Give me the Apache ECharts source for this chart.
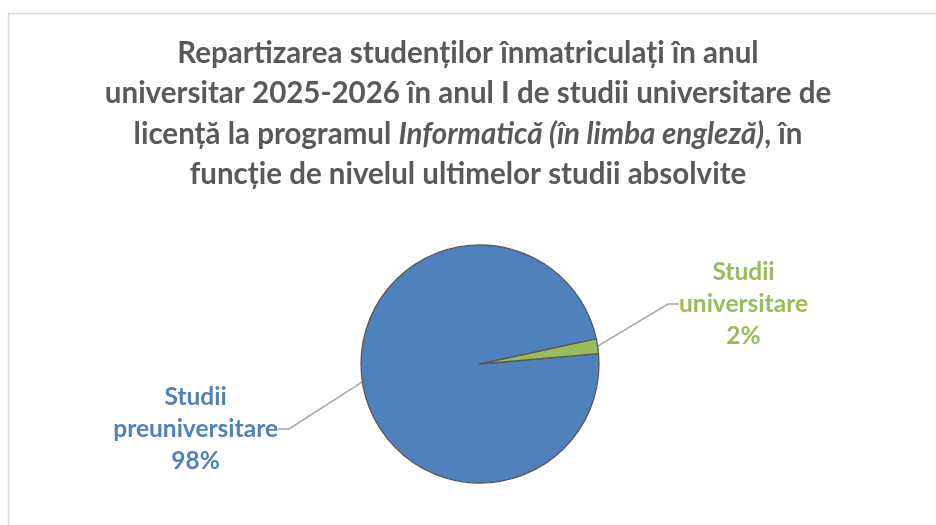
<!DOCTYPE html>
<html>
<head>
<meta charset="utf-8">
<script src="https://cdn.jsdelivr.net/npm/echarts@6/dist/echarts.min.js"></script>
<style>
  html, body { margin: 0; padding: 0; background: #fff; }
  #chart { width: 936px; height: 525px; }
</style>
</head>
<body>
<div id="chart"></div>
<script>
const categories = ['Studii preuniversitare', 'Studii universitare']
const labelLines = [['Studii', 'preuniversitare'], ['Studii', 'universitare']]
const values = [98, 2]
const colors = ['#4F81BD', '#9BBB59']
// where each label block sits (anchor point of the text block)
const labelPos = [
  { x: 286, y: 429, align: 'right' },
  { x: 671, y: 304, align: 'left' }
]

const FONT = 'Lato, "Open Sans", sans-serif'

const chart = echarts.init(document.getElementById('chart'))

const pieData = categories.map((name, i) => ({
  name,
  value: values[i],
  itemStyle: { color: colors[i] },
  label: {
    color: colors[i],
    formatter: (p) => labelLines[i].map(t => '{c|' + t + '}').join('\n') + '\n{c|' + Math.round(p.percent) + '%}',
    rich: {
      c: { color: colors[i], fontSize: 24.5, fontWeight: 'bold', fontFamily: FONT, lineHeight: 32, align: 'center' }
    }
  }
}))

chart.setOption({
  animation: false,
  backgroundColor: '#fff',
  title: {
    left: 'center',
    top: 28,
    text: '{b|Repartizarea studenților înmatriculați în anul}\n' +
          '{b|universitar 2025-2026 în anul I de studii universitare de}\n' +
          '{b|licență la programul }{i|Informatică (în limba engleză)}{b|, în}\n' +
          '{b|funcție de nivelul ultimelor studii absolvite}',
    textStyle: {
      rich: {
        b: { fontSize: 29.5, fontWeight: 'bold', color: '#595959', fontFamily: FONT, lineHeight: 40.5 },
        i: { fontSize: 29.5, fontWeight: 'bold', fontStyle: 'italic', color: '#595959', fontFamily: FONT, lineHeight: 40.5 }
      }
    }
  },
  graphic: [{
    type: 'rect',
    shape: { x: 8.5, y: 13.5, width: 1000, height: 600 },
    style: { fill: 'none', stroke: '#D9D9D9', lineWidth: 1.5 },
    silent: true
  }],
  series: [{
    type: 'pie',
    center: [480, 364],
    radius: 119,
    startAngle: 5,
    clockwise: true,
    data: pieData,
    itemStyle: { borderColor: '#595959', borderWidth: 1.3 },
    label: {
      show: true,
      position: 'outside',
      padding: [0, 8]
    },
    labelLine: {
      show: true,
      length: 40,
      length2: 11,
      lineStyle: { color: '#A6A6A6', width: 1.5 }
    },
    labelLayout: (params) => {
      const p = labelPos[params.dataIndex]
      return { x: p.x, y: p.y, align: p.align, verticalAlign: 'middle' }
    }
  }]
})
</script>
</body>
</html>
